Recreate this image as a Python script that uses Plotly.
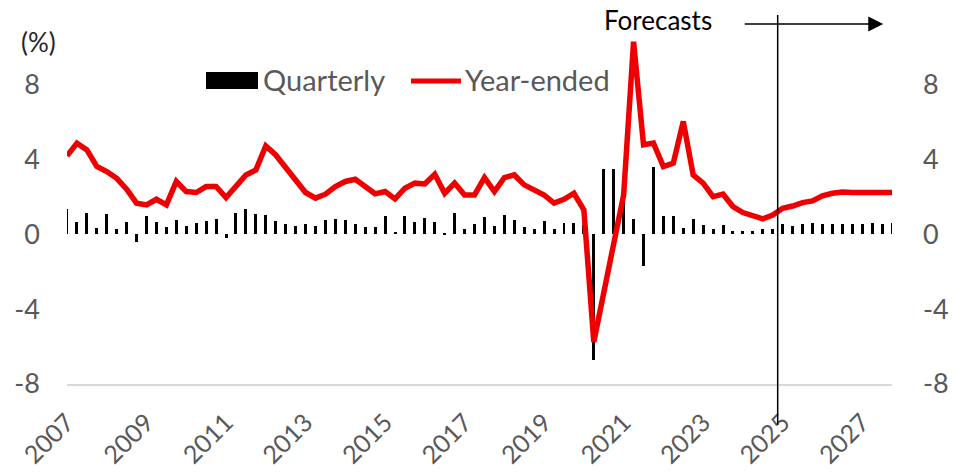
import plotly.graph_objects as go

start_year = 2007
# quarterly growth (%), 2007 Q1 .. 2027 Q4
quarterly = [
    1.34, 0.68, 1.16, 0.36, 1.07, 0.30, 0.68, -0.39, 0.98, 0.68, 0.39, 0.77,
    0.45, 0.62, 0.71, 0.80, -0.20, 1.16, 1.37, 1.10, 1.02, 0.71, 0.57, 0.45,
    0.55, 0.45, 0.77, 0.80, 0.77, 0.53, 0.39, 0.39, 0.98, 0.12, 0.98, 0.66,
    0.89, 0.66, 0.03, 1.16, 0.30, 0.57, 0.95, 0.45, 1.03, 0.75, 0.39, 0.27,
    0.71, 0.30, 0.62, 0.62, 0.50, -6.70, 3.48, 3.48, 2.00, 0.80, -1.70, 3.60,
    0.98, 0.98, 0.36, 0.80, 0.48, 0.30, 0.48, 0.18, 0.18, 0.18, 0.30, 0.30,
    0.57, 0.45, 0.53, 0.62, 0.57, 0.57, 0.57, 0.57, 0.53, 0.62, 0.57, 0.59,
]
# year-ended growth (%)
year_ended = [
    4.20, 4.88, 4.52, 3.63, 3.36, 3.00, 2.42, 1.67, 1.58, 1.88, 1.58, 2.83,
    2.29, 2.24, 2.56, 2.56, 1.97, 2.56, 3.18, 3.45, 4.73, 4.25, 3.54, 2.83,
    2.24, 1.94, 2.15, 2.56, 2.83, 2.95, 2.56, 2.17, 2.29, 1.90, 2.47, 2.74,
    2.70, 3.22, 2.20, 2.74, 2.11, 2.11, 3.04, 2.29, 3.04, 3.18, 2.65, 2.42,
    2.11, 1.67, 1.88, 2.20, 1.31, -5.75, -3.00, -0.50, 2.10, 10.30, 4.79, 4.88,
    3.63, 3.81, 6.04, 3.18, 2.74, 2.02, 2.15, 1.49, 1.17, 0.99, 0.83, 1.04,
    1.40, 1.52, 1.70, 1.79, 2.06, 2.20, 2.27, 2.24, 2.24, 2.27, 2.25, 2.24,
]
year_ticks = list(range(2007, 2028, 2))
y_ticks = [-8, -4, 0, 4, 8]
y_labels = ["-8", "-4", "0", "4", "8"]
forecast_start = 2024.875

x = [start_year + i / 4 for i in range(len(quarterly))]

grey = "#595959"
font = "Lato, 'Open Sans', sans-serif"


def px(v):
    return (v - 67) / 825


def py(v):
    return (384 - v) / 374


fig = go.Figure()
fig.add_trace(go.Bar(x=x, y=quarterly, width=0.075, marker_color="black",
                     marker_line_width=0, name="Quarterly", showlegend=False))
fig.add_trace(go.Scatter(x=x, y=year_ended, mode="lines", name="Year-ended",
                         line=dict(color="#EE0000", width=5.5), showlegend=False))
fig.add_trace(go.Scatter(x=[x[0]], y=[0], yaxis="y2", mode="markers",
                         marker=dict(opacity=0), showlegend=False, hoverinfo="skip"))

# forecast divider and arrow
fig.add_shape(type="line", xref="x", yref="paper", x0=forecast_start, x1=forecast_start,
              y0=py(425), y1=py(15), line=dict(color="black", width=1.5))
fig.add_annotation(x=2027.53, y=py(24), xref="x", yref="paper", text="", showarrow=True,
                   ax=-140, ay=0, arrowhead=2, arrowsize=2, arrowwidth=1.5, arrowcolor="black")
fig.add_annotation(x=px(658), y=py(20), xref="paper", yref="paper", text="Forecasts",
                   showarrow=False, xanchor="center", yanchor="middle",
                   font=dict(size=26, color="black", family=font))
fig.add_annotation(x=px(19), y=py(42), xref="paper", yref="paper", text="(%)",
                   showarrow=False, xanchor="left", yanchor="middle",
                   font=dict(size=26, color="#262626", family=font))

# legend drawn by hand
fig.add_shape(type="rect", xref="paper", yref="paper",
              x0=px(206), x1=px(258), y0=py(89), y1=py(72), fillcolor="black", line_width=0)
fig.add_annotation(x=px(261), y=py(80), xref="paper", yref="paper", text="Quarterly",
                   showarrow=False, xanchor="left", yanchor="middle",
                   font=dict(size=29, color=grey, family=font))
fig.add_shape(type="line", xref="paper", yref="paper",
              x0=px(411), x1=px(461), y0=py(81), y1=py(81),
              line=dict(color="#EE0000", width=5))
fig.add_annotation(x=px(463), y=py(80), xref="paper", yref="paper", text="Year-ended",
                   showarrow=False, xanchor="left", yanchor="middle",
                   font=dict(size=29, color=grey, family=font))

axis_font = dict(size=27, color=grey, family=font)
fig.update_layout(
    width=953, height=472,
    margin=dict(l=67, r=61, t=10, b=88),
    paper_bgcolor="white", plot_bgcolor="white",
    font=dict(family=font),
    bargap=0,
    xaxis=dict(range=[2007, 2027.75], tickvals=year_ticks, ticktext=[str(t) for t in year_ticks],
               tickangle=-45, tickfont=dict(size=25, color=grey, family=font),
               showgrid=False, zeroline=False,
               showline=True, linecolor="#D9D9D9", linewidth=2, ticks="",
               ticklabelstandoff=12, automargin=False),
    yaxis=dict(range=[-8, 12], tickvals=y_ticks, ticktext=y_labels, tickfont=axis_font,
               showgrid=False, zeroline=False, ticks="", ticklabelstandoff=26, automargin=False),
    yaxis2=dict(range=[-8, 12], tickvals=y_ticks, ticktext=y_labels, tickfont=axis_font,
                showgrid=False, zeroline=False, ticks="", overlaying="y", side="right",
                anchor="x", ticklabelstandoff=30, automargin=False),
)

fig.write_html("out.html", config={"displayModeBar": False},
               post_script="document.body.style.margin='0';")
